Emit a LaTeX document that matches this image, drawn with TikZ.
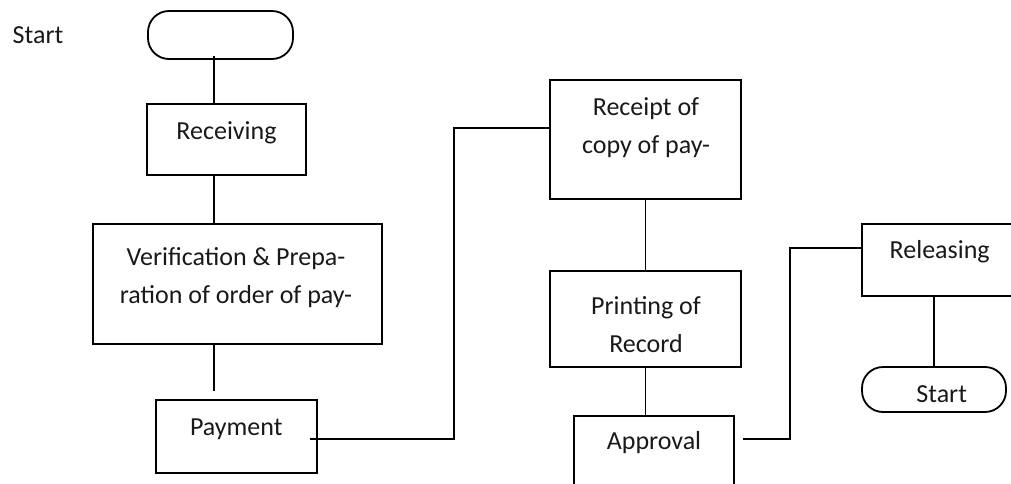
\documentclass[tikz,border=0pt]{standalone}
\usepackage{fontspec}
\setmainfont{Carlito}
\begin{document}
\begin{tikzpicture}[x=1pt,y=-1pt,
  line width=1.8pt,
  stepbox/.style={draw, rectangle, inner sep=0pt},
  termbox/.style={draw, rectangle, rounded corners=21pt, inner sep=0pt},
  txt/.style={font=\fontsize{26}{38}\selectfont, align=center, inner sep=0pt, text=black!90}]
\useasboundingbox (0,0) rectangle (1011,484);
\clip (0,0) rectangle (1011,484);

% boxes, sized in pixel units (y grows downwards)
\node[termbox, minimum width=145pt, minimum height=48pt] (startT) at (220.5,35) {};
\node[stepbox, minimum width=159pt, minimum height=71pt] (recv)   at (226.5,139.5) {};
\node[stepbox, minimum width=289pt, minimum height=120pt] (verif) at (237.5,284) {};
\node[stepbox, minimum width=161pt, minimum height=73pt] (pay)    at (236.5,436.5) {};
\node[stepbox, minimum width=191pt, minimum height=119pt] (rcpt)  at (645.5,139.5) {};
\node[stepbox, minimum width=191pt, minimum height=96pt] (print)  at (645.5,319) {};
\node[stepbox, minimum width=160pt, minimum height=120pt] (appr)  at (654,476) {};
\node[stepbox, minimum width=160pt, minimum height=72pt] (rel)    at (942,260) {};
\node[termbox, minimum width=144pt, minimum height=45pt] (endT)   at (934,389.5) {};

% texts
\node[txt] (lstart) at (38,35) {Start};
\node[txt] at (226.5,132.7) {Receiving};
\node[txt] at (236,278) {Verification \& Prepa-\\ration of order of pay-};
\node[txt] at (236.3,429) {Payment};
\node[txt] at (646,128) {Receipt of\\copy of pay-};
\node[txt] at (646,325) {Printing of\\Record};
\node[txt] at (654,443) {Approval};
\node[txt] at (939.7,252) {Releasing};
\node[txt] at (941.7,394) {Start};

% connectors
\coordinate (spine) at (214,0);
\coordinate (b1) at (454,128);
\coordinate (b2) at (790,248);
\draw ([yshift=4pt]startT.south -| spine) -- (recv.north -| spine);
\draw (recv.south -| spine) -- (verif.north -| spine);
\draw (verif.south -| spine) -- ([yshift=8pt]pay.north -| spine);
\draw ([xshift=-8pt,yshift=-2.5pt]pay.east) -| (b1) -- (b1 -| rcpt.west);
\draw (rcpt.south) -- (rcpt.south |- print.north);
\draw (print.south) -- (print.south |- appr.north);
\draw ([xshift=8pt,yshift=-24pt]appr.north east) -| (b2) -- (b2 -| rel.west);
\draw (endT.north) -- (endT.north |- rel.south);
\end{tikzpicture}
\end{document}
